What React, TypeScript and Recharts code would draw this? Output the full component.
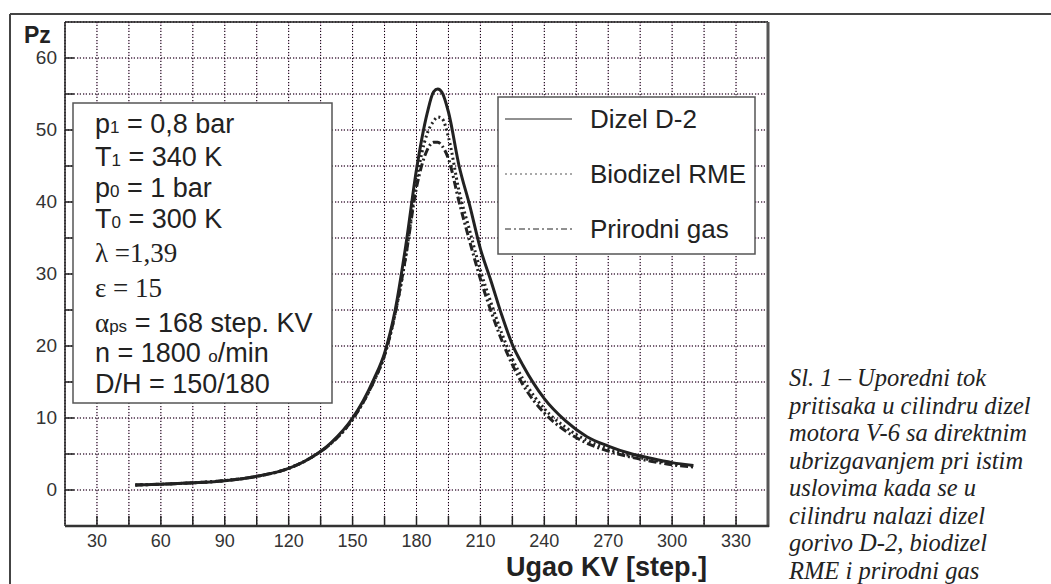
import { CartesianGrid, Line, LineChart, XAxis, YAxis } from "recharts";


const ANGLES = [48, 60, 75, 90, 105, 120, 130, 140, 150, 155, 160, 165, 170, 175, 180, 185, 188, 190, 192, 195, 200, 205, 210, 215, 220, 225, 230, 240, 250, 260, 270, 280, 290, 300, 310];
const DIZEL = [0.7, 0.8, 1.0, 1.3, 1.9, 3.0, 4.4, 6.6, 10.0, 12.4, 15.4, 19.0, 25.0, 34.0, 44.5, 52.3, 55.3, 55.7, 55.2, 52.5, 45.0, 39.5, 33.5, 29.0, 24.3, 20.2, 17.3, 12.7, 9.6, 7.4, 6.1, 5.1, 4.4, 3.8, 3.4];
const BIODIZEL = [0.7, 0.8, 1.0, 1.3, 1.9, 3.0, 4.4, 6.5, 9.8, 12.2, 15.1, 18.7, 24.5, 32.5, 43.0, 49.5, 51.2, 51.8, 51.6, 49.0, 41.5, 36.0, 30.5, 26.0, 21.8, 18.2, 15.4, 11.3, 8.7, 6.9, 5.7, 4.8, 4.2, 3.7, 3.3];
const GAS = [0.7, 0.8, 1.0, 1.3, 1.9, 3.0, 4.4, 6.5, 9.8, 12.2, 15.1, 18.7, 24.5, 32.5, 42.0, 47.2, 48.3, 48.3, 47.8, 46.0, 40.0, 34.5, 29.3, 24.8, 20.8, 17.4, 14.6, 10.7, 8.2, 6.5, 5.4, 4.6, 4.0, 3.5, 3.2];

const X_TICKS = [30, 45, 60, 75, 90, 105, 120, 135, 150, 165, 180, 195, 210, 225, 240, 255, 270, 285, 300, 315, 330];
const Y_TICKS = [0, 5, 10, 15, 20, 25, 30, 35, 40, 45, 50, 55, 60];

const CAPTION = [
  "Sl. 1 – Uporedni tok",
  "pritisaka u cilindru dizel",
  "motora V-6 sa direktnim",
  "ubrizgavanjem pri istim",
  "uslovima kada se u",
  "cilindru nalazi dizel",
  "gorivo D-2, biodizel",
  "RME i prirodni gas",
];

const SANS = "'Liberation Sans', Arial, sans-serif";
const SERIF = "'Liberation Serif', 'Times New Roman', serif";
const INK = "#222";

const data = ANGLES.map((angle, i) => ({ angle, dizel: DIZEL[i], biodizel: BIODIZEL[i], gas: GAS[i] }));


function XTick({ x, y, payload }: any) {
  const v = payload.value;
  return (
    <g>
      <line x1={x} x2={x} y1={y - 8} y2={y - 18} stroke={INK} strokeWidth={1.5} />
      {v % 30 === 0 && (
        <text x={x} y={y + 13} textAnchor="middle" fontSize={18} fontFamily={SANS} fill="#333">{v}</text>
      )}
    </g>
  );
}

function YTick({ x, y, payload }: any) {
  const v = payload.value;
  return (
    <g>
      <line x1={x + 8} x2={x + 17} y1={y} y2={y} stroke={INK} strokeWidth={1.5} />
      {v % 10 === 0 && (
        <text x={x} y={y + 6} textAnchor="end" fontSize={19} fontFamily={SANS} fill="#333">{v}</text>
      )}
    </g>
  );
}


export default function App() {
  return (
    <div style={{ position: "absolute", left: 0, top: 0, width: 1051, height: 584, background: "#fff" }}>
      <LineChart width={1051} height={584} data={data} margin={{ top: 22, right: 283, bottom: 28, left: 10 }}>
        <CartesianGrid stroke="#c9a3c4" strokeDasharray="4 2" />
        <CartesianGrid stroke="#000" strokeDasharray="1 2" />
        <XAxis type="number" dataKey="angle" domain={[15, 345]} ticks={X_TICKS} interval={0}
          axisLine={false} tickLine={false} tickSize={0} tickMargin={8} height={30} tick={<XTick />} />
        <YAxis type="number" domain={[-5, 65]} ticks={Y_TICKS} interval={0}
          axisLine={false} tickLine={false} tickSize={0} tickMargin={8} width={55} tick={<YTick />} />
        <Line type="monotone" dataKey="gas" stroke={INK} strokeWidth={3} strokeDasharray="8 3 2 3" dot={false} isAnimationActive={false} />
        <Line type="monotone" dataKey="biodizel" stroke={INK} strokeWidth={3} strokeDasharray="2 3" dot={false} isAnimationActive={false} />
        <Line type="monotone" dataKey="dizel" stroke={INK} strokeWidth={3} dot={false} isAnimationActive={false} />
      </LineChart>

      <svg width={1051} height={584} style={{ position: "absolute", left: 0, top: 0, pointerEvents: "none" }}>
        {/* page frame */}
        <line x1={10} x2={1051} y1={14} y2={14} stroke="#444" strokeWidth={2} />
        <line x1={10} x2={10} y1={14} y2={584} stroke="#444" strokeWidth={2} />

        {/* plot border */}
        <line x1={65} x2={768} y1={22} y2={22} stroke={INK} strokeWidth={1.5} />
        <line x1={65} x2={65} y1={22} y2={526} stroke={INK} strokeWidth={1.5} />
        <line x1={768} x2={768} y1={22} y2={527} stroke="#555" strokeWidth={3} />
        <line x1={65} x2={769} y1={526} y2={526} stroke="#333" strokeWidth={2.5} />

        <text x={24} y={43} fontSize={23} fontWeight="bold" fontFamily={SANS} fill={INK}>Pz</text>
        <text x={506} y={576} fontSize={27} fontWeight="bold" fontFamily={SANS} fill={INK}>Ugao KV [step.]</text>

        {/* parameters */}
        <rect x={73} y={103} width={259} height={300} fill="#fff" stroke="#555" strokeWidth={1.5} />
        <g fontFamily={SANS} fontSize={27} fill={INK}>
          <text x={95} y={133}>p<tspan fontSize={17}>1</tspan> = 0,8 bar</text>
          <text x={95} y={166}>T<tspan fontSize={17}>1</tspan> = 340 K</text>
          <text x={95} y={197}>p<tspan fontSize={17}>0</tspan> = 1 bar</text>
          <text x={95} y={228}>T<tspan fontSize={17}>0</tspan> = 300 K</text>
          <text x={95} y={262} fontFamily={SERIF}>λ =1,39</text>
          <text x={95} y={297} fontFamily={SERIF}>ε = 15</text>
          <text x={95} y={332}><tspan fontFamily={SERIF}>α</tspan><tspan fontSize={17}>ps</tspan> = 168 step. KV</text>
          <text x={95} y={362}>n = 1800 <tspan fontSize={17}>o</tspan>/min</text>
          <text x={95} y={393}>D/H = 150/180</text>
        </g>

        {/* legend */}
        <rect x={498} y={97} width={257} height={157} fill="#fff" stroke="#555" strokeWidth={1.5} />
        <line x1={505} x2={572} y1={119} y2={119} stroke={INK} strokeWidth={1} />
        <line x1={505} x2={572} y1={174} y2={174} stroke="#555" strokeWidth={1} strokeDasharray="2 3" />
        <line x1={505} x2={572} y1={229} y2={229} stroke={INK} strokeWidth={1} strokeDasharray="6 3 2 3" />
        <g fontFamily={SANS} fontSize={26} fill={INK}>
          <text x={590} y={128}>Dizel D-2</text>
          <text x={590} y={183}>Biodizel RME</text>
          <text x={590} y={238}>Prirodni gas</text>
        </g>

        {/* caption */}
        <g fontFamily={SERIF} fontSize={24.5} fontStyle="italic" fill={INK}>
          {CAPTION.map((line, i) => (
            <text key={i} x={789} y={386 + i * 27.5}>{line}</text>
          ))}
        </g>
      </svg>
    </div>
  );
}
